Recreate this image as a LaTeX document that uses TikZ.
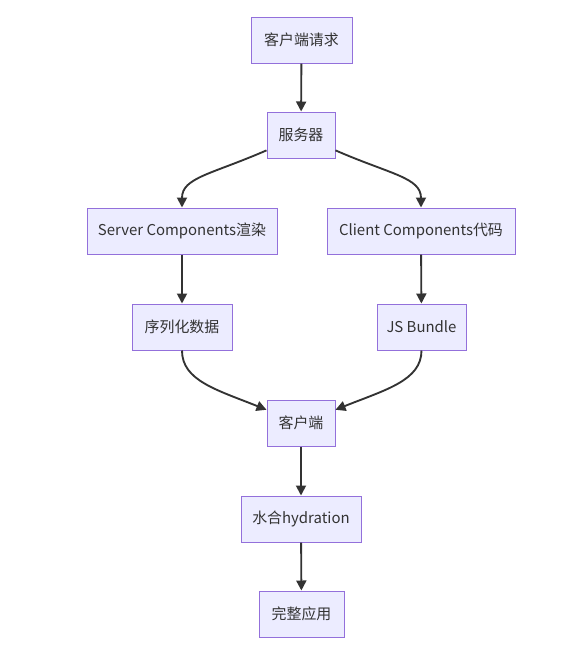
\documentclass[tikz,border=0pt]{standalone}
\usepackage{fontspec}
\setmainfont{Noto Sans CJK SC}
\usetikzlibrary{arrows.meta}
\definecolor{nodefill}{HTML}{ECECFF}
\definecolor{nodeborder}{HTML}{9370DB}
\definecolor{ink}{HTML}{333333}
\tikzset{
  box/.style={draw=nodeborder, fill=nodefill, line width=0.75pt, minimum height=34.5pt,
    inner sep=0pt, text=ink, font=\fontsize{11.2pt}{13pt}\selectfont},
  conn/.style={draw=ink, line width=1.4pt, -{Triangle[length=7.5pt,width=7.5pt]}}
}
\begin{document}
\begin{tikzpicture}[x=0.75pt,y=-0.75pt]
\useasboundingbox (0,0) rectangle (565,658);
\node[box, minimum width=75.75pt] (req) at (301.5,40) {客户端请求};
\node[box, minimum width=51pt] (srv) at (301,135) {服务器};
\node[box, minimum width=142.5pt] (sc) at (182,231) {Server Components渲染};
\node[box, minimum width=141pt] (cc) at (421,231) {Client Components代码};
\node[box, minimum width=75pt] (ser) at (182,327) {序列化数据};
\node[box, minimum width=66.75pt] (js) at (421.5,327) {JS Bundle};
\node[box, minimum width=51pt] (cli) at (301,423) {客户端};
\node[box, minimum width=90pt] (hyd) at (301,519) {水合hydration};
\node[box, minimum width=63.75pt] (app) at (301.5,614) {完整应用};

\draw[conn] (req) -- (srv);
\draw[conn] (srv.204) .. controls +(-55,24) and +(0,-30) .. (sc.north);
\draw[conn] (srv.336) .. controls +(55,24) and +(0,-30) .. (cc.north);
\draw[conn] (sc) -- (ser);
\draw[conn] (cc) -- (js);
\draw[conn] (ser.south) .. controls +(0,30) and +(-50,-20) .. (cli.159);
\draw[conn] (js.south) .. controls +(0,30) and +(50,-20) .. (cli.21);
\draw[conn] (cli) -- (hyd);
\draw[conn] (hyd) -- (app);
\end{tikzpicture}
\end{document}
